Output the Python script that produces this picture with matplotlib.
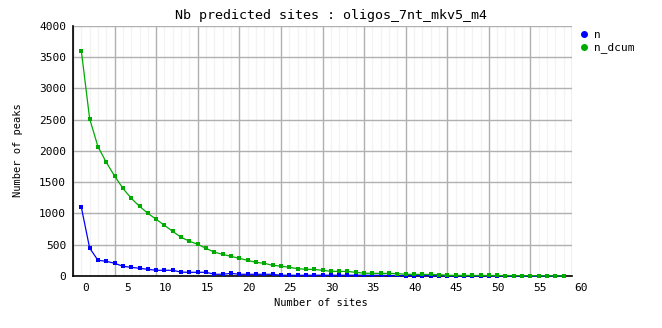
import matplotlib
matplotlib.use("Agg")
import matplotlib.pyplot as plt
import matplotlib.transforms as mtransforms
from matplotlib.lines import Line2D

# ---- data ----
sites = list(range(0, 59))
n = [1100, 447, 251, 235, 203, 155, 139, 123, 107, 91,
     91, 91, 62, 59, 59, 59, 28, 27, 43, 27,
     27, 27, 27, 27, 12, 13, 10, 12, 11, 13,
     12, 12, 12, 12, 12, 11, 12, 8, 8, 6,
     6, 6, 5, 5, 2, 1, 1, 2, 1, 0,
     1, 0, 0, 1, 1, 0, 0, 1, 1]
n_dcum = [3600, 2514, 2067, 1817, 1598, 1402, 1242, 1114, 1002, 906,
          810, 712, 618, 556, 506, 442, 380, 346, 314, 282,
          250, 218, 203, 171, 158, 139, 117, 107, 105, 91,
          75, 74, 73, 59, 44, 43, 42, 41, 38, 27,
          26, 25, 24, 22, 11, 10, 10, 9, 8, 8,
          8, 7, 7, 6, 6, 5, 4, 3, 2]
series_names = ["n", "n_dcum"]
x_tick_labels = [str(v) for v in range(0, 61, 5)]
y_ticks = list(range(0, 4001, 500))

title = "Nb predicted sites : oligos_7nt_mkv5_m4"
xlabel = "Number of sites"
ylabel = "Number of peaks"

BLUE = "#0000ff"
GREEN = "#00aa00"
FONT = "DejaVu Sans Mono"

W, H = 662, 328
fig = plt.figure(figsize=(W / 100, H / 100), dpi=100)
ax = fig.add_axes([73 / W, 1 - 276 / H, (572 - 73) / W, (276 - 25.7) / H])

ax.set_xlim(-1, 59)
ax.set_ylim(0, 4000)

# grid
major_x = [-1 + 5 * k for k in range(len(x_tick_labels))]
ax.set_xticks(major_x)
ax.set_xticks(list(range(-1, 60)), minor=True)
ax.set_yticks(y_ticks)
ax.grid(which="major", color="#b0b0b0", linewidth=1.0)
ax.grid(which="minor", axis="x", color="#f3f3f3", linewidth=0.9)
ax.set_axisbelow(True)

ax.plot(sites, n, color=BLUE, marker="s", markersize=2.6, linewidth=0.9,
        markeredgewidth=0, zorder=3, clip_on=False)
ax.plot(sites, n_dcum, color=GREEN, marker="s", markersize=2.6, linewidth=0.9,
        markeredgewidth=0, zorder=4, clip_on=False)

for s in ["top", "right"]:
    ax.spines[s].set_visible(False)
for s in ["left", "bottom"]:
    ax.spines[s].set_color("black")
    ax.spines[s].set_linewidth(1.2)
    ax.spines[s].set_zorder(2.5)

ax.tick_params(axis="both", which="both", length=0)
ax.set_xticklabels(x_tick_labels, fontsize=8, family=FONT)
ax.set_yticklabels([str(v) for v in y_ticks], fontsize=8, family=FONT)
ax.tick_params(axis="x", pad=5)
ax.tick_params(axis="y", pad=5)

offset = mtransforms.ScaledTranslation(16 / 100, 0, fig.dpi_scale_trans)
for lab in ax.get_xticklabels():
    lab.set_horizontalalignment("right")
    lab.set_transform(lab.get_transform() + offset)

fig.text(0.5, 1 - 16 / H, title, ha="center", va="center", fontsize=9.6, family=FONT)
fig.text(321 / W, 1 - 303 / H, xlabel, ha="center", va="center", fontsize=7.5, family=FONT)
fig.text(18 / W, 1 - 150 / H, ylabel, ha="center", va="center", rotation=90,
         fontsize=7.5, family=FONT)

handles = [Line2D([], [], color=c, marker="o", linestyle="none", markersize=4)
           for c in (BLUE, GREEN)]
fig.legend(handles, series_names, loc="upper left",
           bbox_to_anchor=(571 / W, 1 - 22 / H), frameon=False,
           prop={"family": FONT, "size": 8}, handlelength=1.0,
           handletextpad=0.4, labelspacing=0.25, borderpad=0.2)

fig.savefig("out.png", dpi=100)
